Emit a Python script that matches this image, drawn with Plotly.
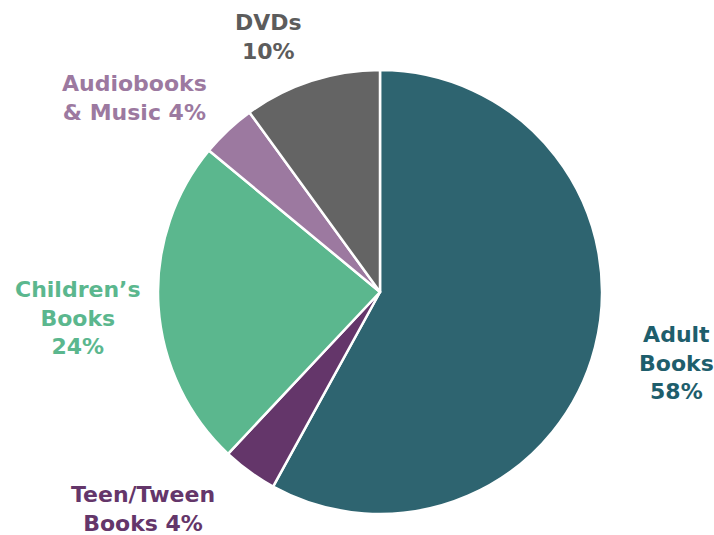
import plotly.graph_objects as go

# Data
categories = ["Adult Books", "Teen/Tween Books", "Children’s Books", "Audiobooks & Music", "DVDs"]
values = [58, 4, 24, 4, 10]
label_prefix = ["Adult<br>Books<br>", "Teen/Tween<br>Books ", "Children’s<br>Books<br>", "Audiobooks<br>& Music ", "DVDs<br>"]

slice_colors = ["#2e6470", "#64366a", "#5bb78e", "#9c79a0", "#646464"]
text_colors = ["#1e5e6c", "#64366a", "#5bb78e", "#9c79a0", "#5c5c5c"]
label_pos = [(676, 363), (143, 509), (78, 318), (134, 98), (268, 37)]

W, H = 714, 535
cx, cy, r = 380, 292, 222

fig = go.Figure(go.Pie(
    labels=categories,
    values=values,
    sort=False,
    direction="clockwise",
    rotation=0,
    marker=dict(colors=slice_colors, line=dict(color="white", width=2.5)),
    textinfo="none",
    hoverinfo="label+percent",
    showlegend=False,
    domain=dict(x=[(cx - r) / W, (cx + r) / W], y=[(H - cy - r) / H, (H - cy + r) / H]),
))

annotations = []
for pre, v, col, (px, py) in zip(label_prefix, values, text_colors, label_pos):
    annotations.append(dict(
        text=f"<b>{pre}{v}%</b>",
        x=px / W, y=1 - py / H, xref="paper", yref="paper",
        xanchor="center", yanchor="middle", align="center", showarrow=False,
        font=dict(family="DejaVu Sans, sans-serif", size=22, color=col),
    ))

fig.update_layout(
    width=W, height=H,
    margin=dict(l=0, r=0, t=0, b=0),
    paper_bgcolor="white", plot_bgcolor="white",
    annotations=annotations,
)

fig.write_html("out.html", config={"displayModeBar": False},
               post_script="document.body.style.margin='0';")
